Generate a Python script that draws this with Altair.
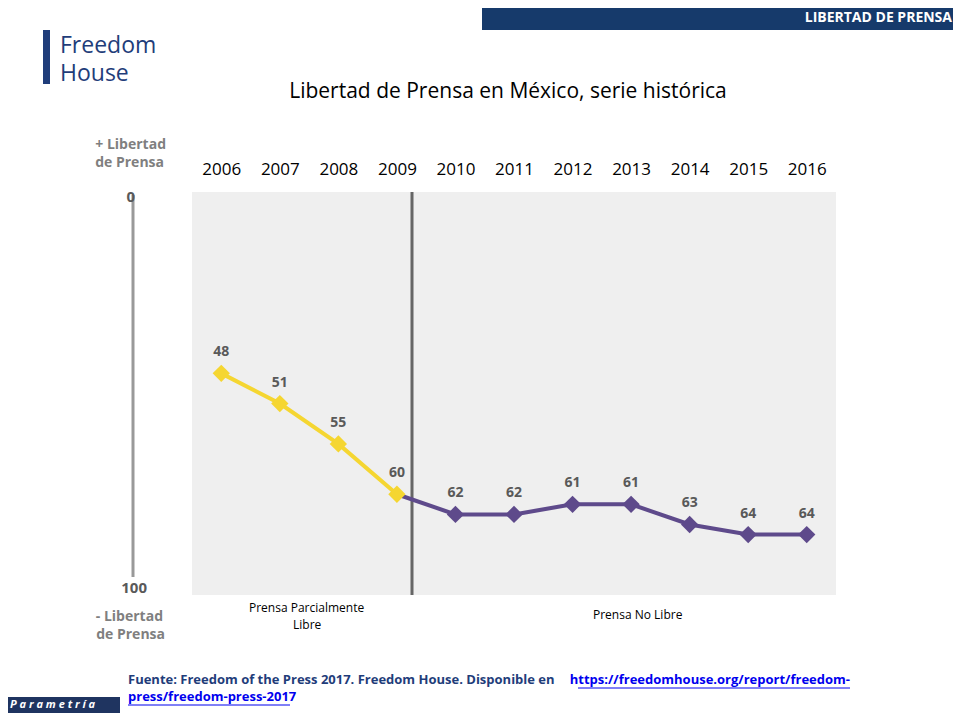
import altair as alt
import pandas as pd

years = ["2006","2007","2008","2009","2010","2011","2012","2013","2014","2015","2016"]
scores = [48, 51, 55, 60, 62, 62, 61, 61, 63, 64, 64]
period = ["Parcialmente Libre"]*4 + ["No Libre"]*7

df = pd.DataFrame({"year": years, "score": scores, "period": period})
seg1 = df.iloc[:4].copy()
seg2 = df.iloc[3:].copy()

W, H = 644, 403
OX, OY = 192, 192

def px(x): return x - OX
def py(y): return y - OY

xs = alt.X("year:N", scale=alt.Scale(domain=years, paddingInner=0, paddingOuter=0),
           axis=alt.Axis(orient="top", title=None, labelAngle=0, ticks=False, domain=False,
                         labelFontSize=17, labelColor="#000", labelPadding=14, labelFont="Open Sans",
                         labelFontWeight=500))
ys = alt.Y("score:Q", scale=alt.Scale(domain=[30, 70], reverse=True), axis=None)

def rect(x1, y1, x2, y2, color):
    return alt.Chart(pd.DataFrame({"a": [0]})).mark_rect(color=color, clip=False).encode(
        x=alt.value(px(x1)), x2=alt.value(px(x2)), y=alt.value(py(y1)), y2=alt.value(py(y2)))

def rule(x1, y1, x2, y2, color, w):
    return alt.Chart(pd.DataFrame({"a": [0]})).mark_rule(color=color, strokeWidth=w, clip=False).encode(
        x=alt.value(px(x1)), x2=alt.value(px(x2)), y=alt.value(py(y1)), y2=alt.value(py(y2)))

def text(x, y, s, size=13, color="#000", weight="normal", align="left", style="normal", font="Open Sans"):
    return alt.Chart(pd.DataFrame({"t": [s]})).mark_text(
        fontSize=size, color=color, fontWeight=weight, align=align, baseline="middle",
        fontStyle=style, font=font, clip=False).encode(
        x=alt.value(px(x)), y=alt.value(py(y)), text="t:N")

bg = alt.Chart(pd.DataFrame({"a": [0]})).mark_rect(color="#EFEFEF").encode(
    x=alt.value(0), x2=alt.value(W), y=alt.value(0), y2=alt.value(H))

base = alt.Chart(df).encode(x=xs, y=ys)
line1 = alt.Chart(seg1).mark_line(color="#F5D631", strokeWidth=4).encode(x=xs, y=ys)
line2 = alt.Chart(seg2).mark_line(color="#5E4A8B", strokeWidth=4).encode(x=xs, y=ys)
pts = base.mark_point(shape="diamond", filled=True, size=300, opacity=1).encode(
    color=alt.Color("period:N", scale=alt.Scale(domain=["Parcialmente Libre", "No Libre"],
                                                range=["#F5D631", "#5E4A8B"]), legend=None))
lbl = base.mark_text(dy=-21, fontSize=14, fontWeight="bold", color="#595959", font="Open Sans").encode(text="score:Q")

blue = "#1F3D7A"
layers = [
    rect(482, 5, 961, 30, "#163A6B"),
    text(952, 18, "LIBERTAD DE PRENSA", 14, "#fff", "bold", "right"),
    text(60, 46, "Freedom", 23, blue, "normal"),
    text(60, 74, "House", 23, blue, "normal"),
    rect(43, 30, 50, 84, blue),
    text(508, 92, "Libertad de Prensa en México, serie histórica", 21, "#000", "normal", "center"),
    bg,
    rule(412, 192, 412, 595, "#666", 3),
    line1, line2, pts, lbl,
    rule(133, 195, 133, 577, "#999", 3),
    text(166, 145, "+ Libertad", 14, "#7F7F7F", "bold", "right"),
    text(164, 163, "de Prensa", 14, "#7F7F7F", "bold", "right"),
    text(135, 197, "0", 15, "#595959", "bold", "right"),
    text(147, 588, "100", 15, "#595959", "bold", "right"),
    text(163, 617, "- Libertad", 14, "#7F7F7F", "bold", "right"),
    text(165, 635, "de Prensa", 14, "#7F7F7F", "bold", "right"),
    text(249, 608, "Prensa  Parcialmente", 12),
    text(293, 625, "Libre", 12),
    text(593, 615, "Prensa  No Libre", 12),
    text(128, 680, "Fuente: Freedom of the Press 2017. Freedom House. Disponible en", 13, blue, "bold"),
    text(850, 680, "https://freedomhouse.org/report/freedom-", 13, "#0000EE", "bold", "right"),
    rule(578, 688, 850, 688, "#0000EE", 1),
    text(128, 697, "press/freedom-press-2017", 13, "#0000EE", "bold"),
    rule(128, 705, 290, 705, "#0000EE", 1),
    rect(0, 697, 120, 713, "#1F3460"),
    text(10, 705, "P a r a m e t r í a", 11, "#fff", "bold", "left", "italic"),
]

chart = alt.layer(*layers).properties(
    width=W, height=H,
    autosize=alt.AutoSizeParams(type="none"),
    padding={"left": OX - 8, "top": OY - 8, "right": 945 - (OX - 8) - W, "bottom": 705 - (OY - 8) - H},
    background="#FFFFFF",
).configure_view(stroke=None)

chart.save("out.html", embed_options={"renderer": "svg", "actions": False})
